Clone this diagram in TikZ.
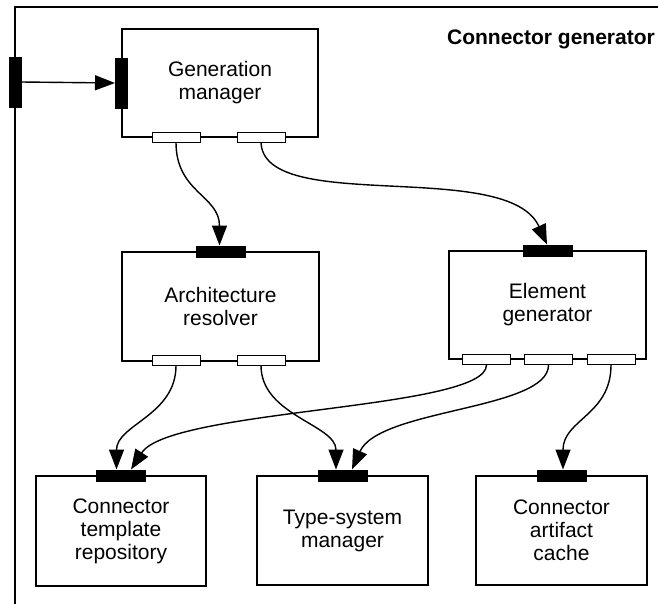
\documentclass[tikz,border=0pt]{standalone}
\usepackage{fontspec}
\setmainfont{Liberation Sans}
\usetikzlibrary{arrows.meta}
\begin{document}
\begin{tikzpicture}[x=1pt,y=-1pt,
  box/.style={draw, line width=1.4pt, inner sep=0pt, align=center, font=\fontsize{21}{23}\selectfont},
  wport/.style={draw, fill=white, line width=1pt, minimum width=48pt, minimum height=10pt, inner sep=0pt},
  bport/.style={draw, fill=black, line width=0.6pt, minimum width=49pt, minimum height=11pt, inner sep=0pt},
  vport/.style={draw, fill=black, line width=0.6pt, minimum width=12pt, minimum height=50pt, inner sep=0pt},
  arr/.style={line width=1.4pt, -{Triangle[length=20pt,width=15pt]}},
  frame/.style={line width=1.4pt},
]
\useasboundingbox (0,0) rectangle (658,603);
\clip (0,0) rectangle (658,603);
% frame
\draw[frame] (15,640) -- (15,7) -- (690,7);
\node[anchor=base east, inner sep=0pt, font=\fontsize{21}{23}\selectfont\bfseries] (title) at (655,44) {Connector generator};
% boxes
\node[box, minimum width=196pt, minimum height=108pt] (gm) at (220,83) {Generation\\manager};
\node[box, minimum width=197pt, minimum height=109pt] (ar) at (220.5,306.5) {Architecture\\resolver};
\node[box, minimum width=197pt, minimum height=108pt] (eg) at (547.5,305) {Element\\generator};
\node[box, minimum width=170pt, minimum height=110pt] (ctr) at (121,531) {Connector\\template\\repository};
\node[box, minimum width=171pt, minimum height=109pt] (tsm) at (342.5,530.5) {Type-system\\manager};
\node[box, minimum width=171pt, minimum height=109pt] (cac) at (561.5,530.5) {Connector\\artifact\\cache};
% ports
\node[vport] (fp) at (15,82) {};
\node[vport] (gmin) at (gm.west) {};
\node[wport] (gm1) at (176,137) {};
\node[wport] (gm2) at (261,137) {};
\node[bport] (arin) at (ar.north) {};
\node[bport] (egin) at (eg.north) {};
\node[wport] (ar1) at (176,360) {};
\node[wport] (ar2) at (261,360) {};
\node[wport] (eg1) at (486.5,359.5) {};
\node[wport] (eg2) at (548.5,359.5) {};
\node[wport] (eg3) at (611,359.5) {};
\node[bport] (ctrin) at (ctr.north) {};
\node[bport] (tsmin) at (tsm.north) {};
\node[bport] (cacin) at (cac.north) {};
% connectors
\draw[arr] (fp.east) -- (gmin.west);
\draw[arr] (gm1.south) .. controls +(0,50) and +(0,-50) .. ([xshift=-1pt]arin.north);
\draw[arr] (gm2.south) .. controls +(3,73) and +(-39,-87) .. ([xshift=-0.5pt]egin.north);
\draw[arr] (ar1.south) .. controls +(0,50) and +(0,-45) .. ([xshift=-4.5pt]ctrin.north);
\draw[arr] (ar2.south) .. controls +(0,50) and +(0,-45) .. ([xshift=-6.5pt]tsmin.north);
\draw[arr] (eg1.south) .. controls +(0,45) and +(39,-61) .. ([xshift=10pt]ctrin.north);
\draw[arr] (eg2.south) .. controls +(0,45) and +(27,-61) .. ([xshift=9.5pt]tsmin.north);
\draw[arr] (eg3.south) .. controls +(0,50) and +(0,-50) .. ([xshift=1.5pt]cacin.north);
\end{tikzpicture}
\end{document}
